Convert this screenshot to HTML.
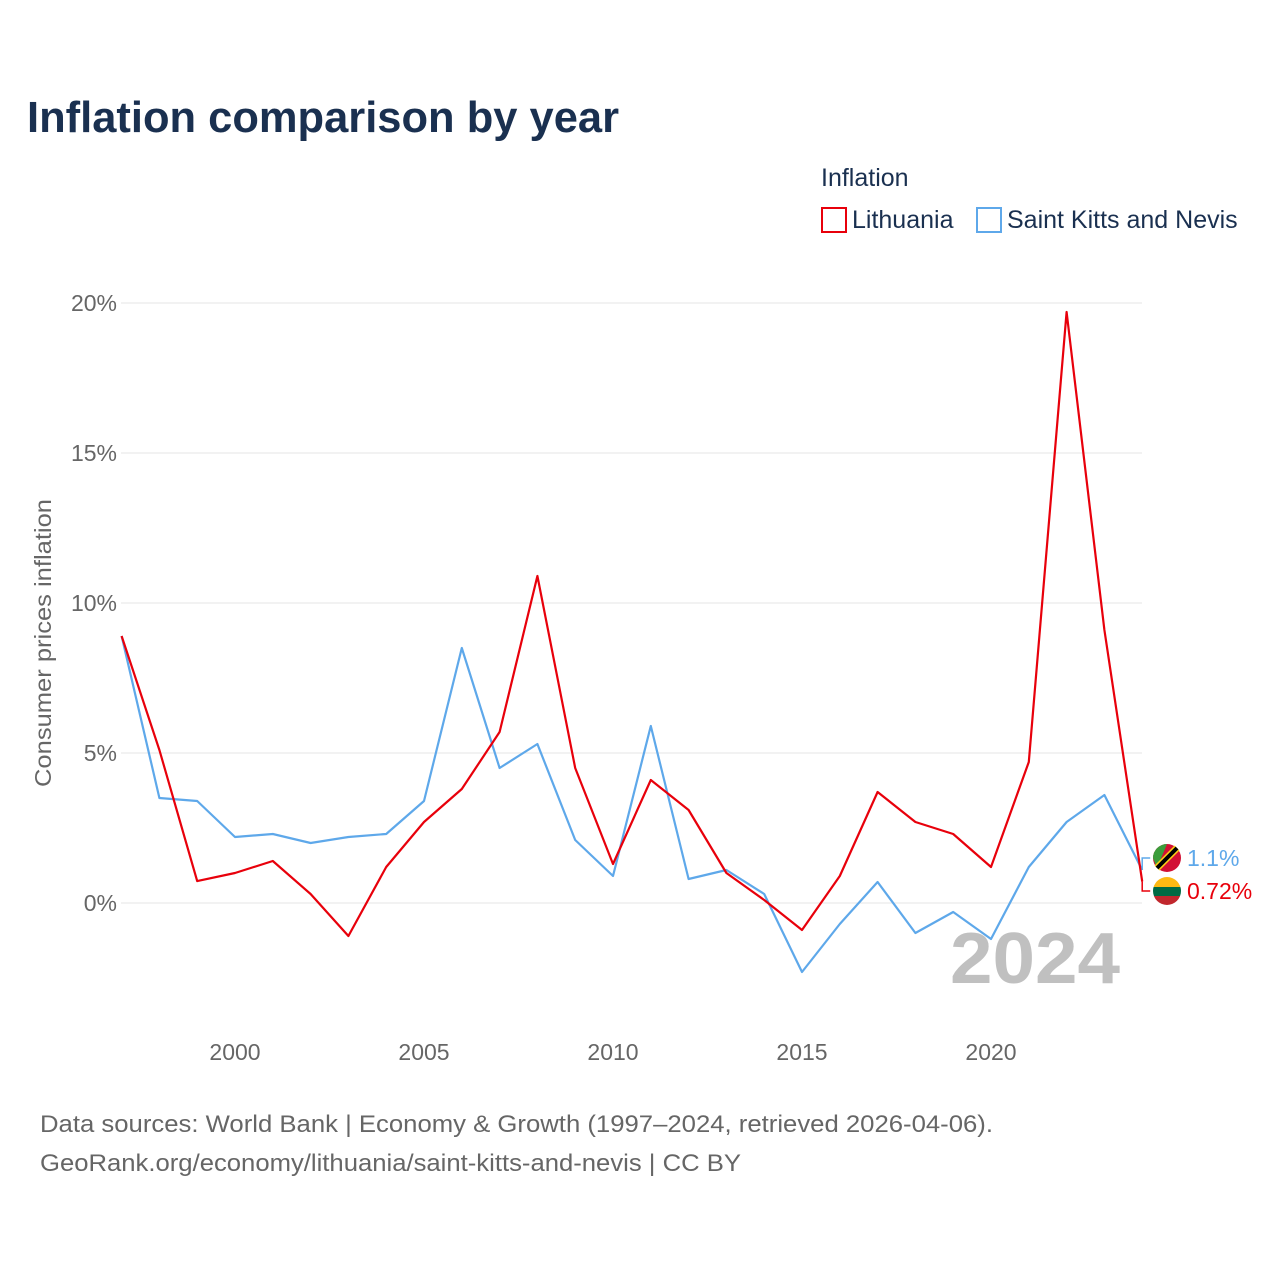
<!DOCTYPE html>
<html><head><meta charset="utf-8"><style>
body{margin:0;background:#fff;width:1280px;height:1280px;overflow:hidden;font-family:"Liberation Sans",sans-serif}
</style></head><body>
<svg width="1280" height="1280" xmlns="http://www.w3.org/2000/svg">
<text x="27" y="132" font-size="44" font-weight="bold" fill="#1a3050" textLength="592" lengthAdjust="spacingAndGlyphs">Inflation comparison by year</text>
<text x="821" y="186" font-size="25" fill="#1a3050">Inflation</text>
<g><rect x="822" y="208" width="24" height="24" fill="none" stroke="#e8000b" stroke-width="2"/><text x="852" y="228" font-size="25" fill="#1a3050">Lithuania</text></g>
<g><rect x="977" y="208" width="24" height="24" fill="none" stroke="#5ea8ea" stroke-width="2"/><text x="1007" y="228" font-size="25" fill="#1a3050">Saint Kitts and Nevis</text></g>
<g id="grid"></g><g id="yt"></g><g id="xt"></g>
<text transform="translate(51,643) rotate(-90)" text-anchor="middle" font-size="23" fill="#666" textLength="288" lengthAdjust="spacingAndGlyphs">Consumer prices inflation</text>
<text x="950" y="983" font-size="72" font-weight="bold" fill="#c0c0c0" textLength="170" lengthAdjust="spacingAndGlyphs">2024</text>
<g id="series"></g>
<text x="40" y="1132" font-size="24" fill="#666" textLength="953" lengthAdjust="spacingAndGlyphs">Data sources: World Bank | Economy &amp; Growth (1997–2024, retrieved 2026-04-06).</text>
<text x="40" y="1171" font-size="24" fill="#666" textLength="701" lengthAdjust="spacingAndGlyphs">GeoRank.org/economy/lithuania/saint-kitts-and-nevis | CC BY</text>
</svg>
<script>
const years=[1997,1998,1999,2000,2001,2002,2003,2004,2005,2006,2007,2008,2009,2010,2011,2012,2013,2014,2015,2016,2017,2018,2019,2020,2021,2022,2023,2024];
const lithuania=[8.9,5.1,0.73,1.0,1.4,0.3,-1.1,1.2,2.7,3.8,5.7,10.9,4.5,1.3,4.1,3.1,1.0,0.1,-0.9,0.9,3.7,2.7,2.3,1.2,4.7,19.7,9.1,0.72];
const skn=[8.9,3.5,3.4,2.2,2.3,2.0,2.2,2.3,3.4,8.5,4.5,5.3,2.1,0.9,5.9,0.8,1.1,0.3,-2.3,-0.7,0.7,-1.0,-0.3,-1.2,1.2,2.7,3.6,1.1];
const yTicks=[0,5,10,15,20];
const xTicks=[2000,2005,2010,2015,2020];
const NS="http://www.w3.org/2000/svg";
const x=v=>121.6+(v-1997)*37.8;
const y=v=>903-v*30;
function mk(t,a,p){const e=document.createElementNS(NS,t);for(const k in a)e.setAttribute(k,a[k]);p.appendChild(e);return e;}
const grid=document.getElementById('grid'),yt=document.getElementById('yt'),xt=document.getElementById('xt'),se=document.getElementById('series');
yTicks.forEach(v=>{
 const l=mk('line',{x1:121,x2:1142,y1:y(v),y2:y(v),stroke:'#e6e6e6','stroke-width':1},grid);
 
 
 const t=mk('text',{x:117,y:y(v)+8,'text-anchor':'end','font-size':23,fill:'#666'},yt);t.textContent=v+'%';
 
 
});
xTicks.forEach(v=>{
 const t=mk('text',{x:x(v),y:1060,'text-anchor':'middle','font-size':23,fill:'#666'},xt);t.textContent=v;
 
 
});
function line(d,c,name){
 const p=mk('polyline',{points:d.map((v,i)=>x(years[i])+','+y(v)).join(' '),fill:'none',stroke:c,'stroke-width':2.2,'stroke-linejoin':'round'},se);
 
 
}
line(skn,'#5ea8ea','line-saint-kitts');
line(lithuania,'#e8000b','line-lithuania');
const lastL=lithuania[lithuania.length-1],lastS=skn[skn.length-1];
const ex=x(2024);
const sy=858,ly=891;
mk('polyline',{points:`${ex},${y(lastS)} ${ex},${sy} ${ex+8},${sy}`,fill:'none',stroke:'#5ea8ea','stroke-width':1.5},se);
mk('polyline',{points:`${ex},${y(lastL)} ${ex},${ly} ${ex+8},${ly}`,fill:'none',stroke:'#e8000b','stroke-width':1.5},se);
const f1=mk('g',{},se);


mk('circle',{cx:1167,cy:sy,r:14,fill:'#d21034'},f1);
mk('path',{d:`M1153,${sy} A14,14 0 0 1 1167,${sy-14} L1157,${sy+10} Z`,fill:'#3b9d3b'},f1);
mk('line',{x1:1157,y1:sy+10,x2:1177,y2:sy-10,stroke:'#fcd116','stroke-width':7},f1);
mk('line',{x1:1157,y1:sy+10,x2:1177,y2:sy-10,stroke:'#000','stroke-width':4},f1);
const f2=mk('g',{},se);


mk('clipPath',{id:'cl'},f2);
mk('circle',{cx:1167,cy:ly,r:14},document.getElementById('cl'));
mk('rect',{x:1153,y:ly-14,width:28,height:10,fill:'#fdb913','clip-path':'url(#cl)'},f2);
mk('rect',{x:1153,y:ly-4,width:28,height:9,fill:'#006a44','clip-path':'url(#cl)'},f2);
mk('rect',{x:1153,y:ly+5,width:28,height:10,fill:'#c1272d','clip-path':'url(#cl)'},f2);
const t1=mk('text',{x:1187,y:sy+8,'font-size':23,fill:'#5ea8ea'},se);t1.textContent=lastS+'%';


const t2=mk('text',{x:1187,y:ly+8,'font-size':23,fill:'#e8000b'},se);t2.textContent=lastL+'%';


</script>
</body></html>
